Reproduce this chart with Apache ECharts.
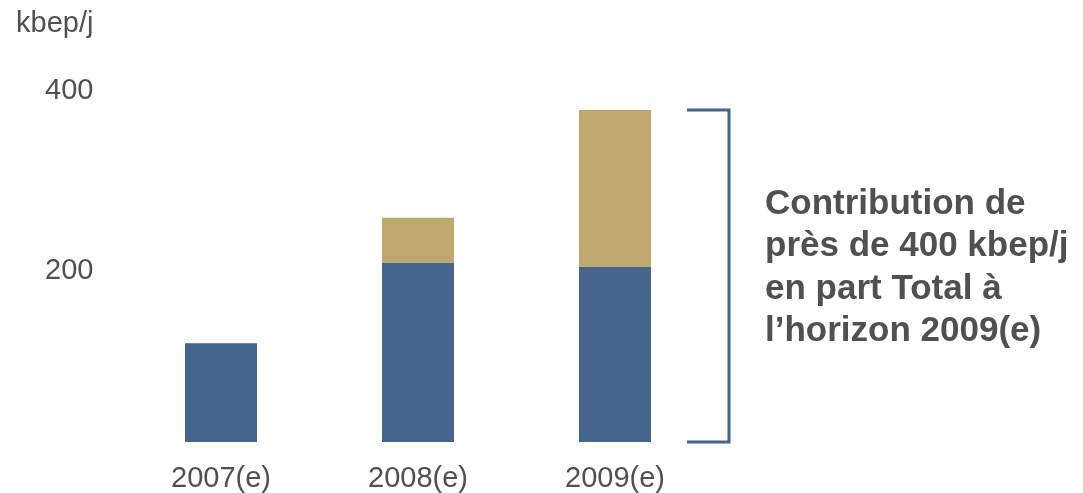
<!DOCTYPE html>
<html>
<head>
<meta charset="utf-8">
<script src="https://cdn.jsdelivr.net/npm/echarts@6/dist/echarts.min.js"></script>
<style>
  html, body { margin: 0; padding: 0; background: #ffffff; }
  #chart { width: 1083px; height: 493px; }
</style>
</head>
<body>
<div id="chart"></div>
<script>
// Production data (kbep/j)
const categories = ['2007(e)', '2008(e)', '2009(e)'];
const baseValues = [110, 200, 195];     // lower (blue) segment
const addedValues = [0, 50, 175];       // upper (tan) segment
const yTicks = [0, 200, 400];
const unitLabel = 'kbep/j';
const noteLines = ['Contribution de', 'près de 400 kbep/j', 'en part Total à', 'l’horizon 2009(e)'];

const FONT = '"Liberation Sans", Arial, sans-serif';
const TEXT = '#505050';
const BLUE = '#45658c';
const TAN = '#bfa870';

const chart = echarts.init(document.getElementById('chart'), null, { renderer: 'canvas' });

chart.setOption({
  animation: false,
  backgroundColor: '#ffffff',
  grid: { left: 122.5, right: 369.5, top: 83, bottom: 51, containLabel: false },
  xAxis: {
    type: 'category',
    data: categories,
    axisLine: { show: false },
    axisTick: { show: false },
    axisLabel: { color: TEXT, fontFamily: FONT, fontSize: 29, margin: 22 }
  },
  yAxis: {
    type: 'value',
    min: yTicks[0],
    max: yTicks[yTicks.length - 1],
    interval: yTicks[1] - yTicks[0],
    name: unitLabel,
    nameLocation: 'end',
    nameGap: 45,
    nameTextStyle: { color: TEXT, fontFamily: FONT, fontSize: 29, align: 'right', padding: [0, 29, 0, 0] },
    axisLine: { show: false },
    axisTick: { show: false },
    splitLine: { show: false },
    axisLabel: {
      color: TEXT, fontFamily: FONT, fontSize: 29, margin: 29,
      showMinLabel: false,
      verticalAlign: 'top',
      lineHeight: 16
    }
  },
  series: [
    {
      type: 'bar', stack: 'total', data: baseValues, barWidth: 72,
      itemStyle: { color: BLUE }
    },
    {
      type: 'bar', stack: 'total', data: addedValues, barWidth: 72,
      itemStyle: { color: TAN }
    }
  ]
});

// Bracket spanning the 2009 total, with the note beside it
function drawAnnotations() {
  const last = categories.length - 1;
  const total = baseValues[last] + addedValues[last];
  const top = chart.convertToPixel({ gridIndex: 0 }, [last, total]);
  const bottom = chart.convertToPixel({ gridIndex: 0 }, [last, 0]);
  const xLeft = top[0] + 72;
  const xRight = top[0] + 114;
  chart.setOption({
    graphic: [
      {
        type: 'polyline',
        shape: { points: [[xLeft, top[1]], [xRight, top[1]], [xRight, bottom[1]], [xLeft, bottom[1]]] },
        style: { stroke: BLUE, lineWidth: 3, fill: null }
      },
      {
        type: 'text',
        left: 765,
        top: 183,
        style: {
          text: noteLines.join('\n'),
          fill: TEXT,
          font: 'bold 35px ' + FONT,
          lineHeight: 42.5
        }
      }
    ]
  });
}
drawAnnotations();
</script>
</body>
</html>
